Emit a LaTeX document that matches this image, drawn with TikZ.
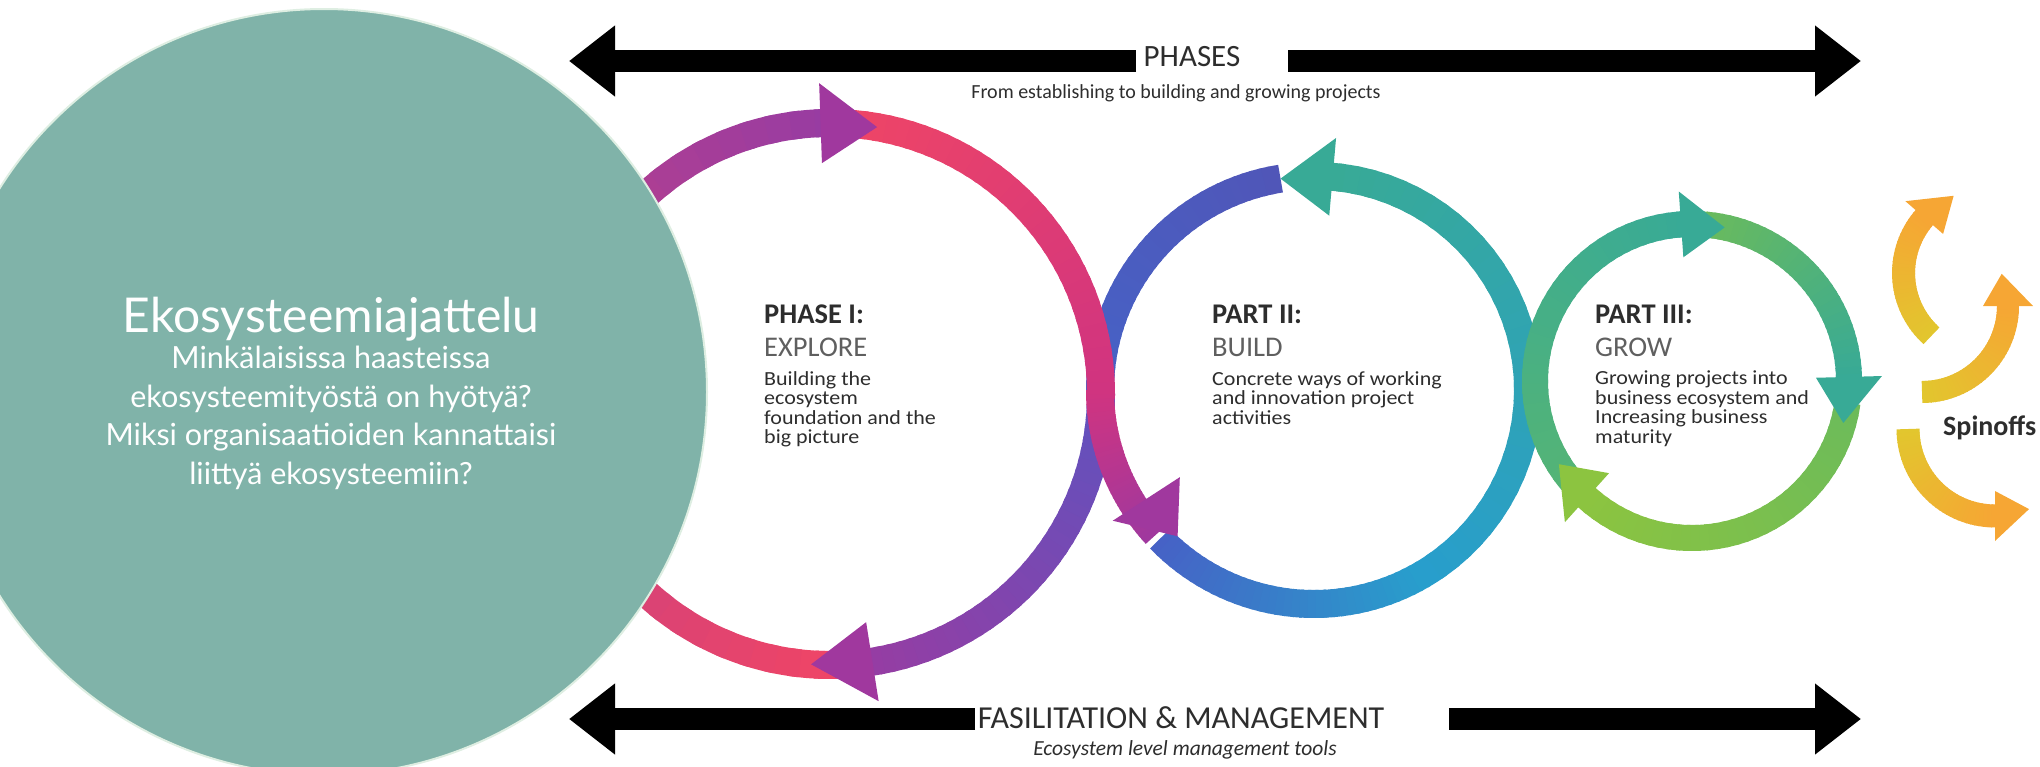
\documentclass[tikz,border=0pt]{standalone}
\usepackage{fontspec}
\setmainfont{Carlito}
\newfontfamily\latofont{Lato}
\newfontfamily\bodyfont[FakeStretch=1.1]{Carlito}
\usetikzlibrary{
    calc,
    arrows.meta
}
\definecolor{circleteal}{RGB}{128,179,169}
\definecolor{circleedge}{RGB}{222,238,226}
\definecolor{ringred}{RGB}{239,69,102}
\definecolor{ringmagenta}{RGB}{208,52,128}
\definecolor{ringplum}{RGB}{160,56,158}
\definecolor{ringpurple}{RGB}{152,60,162}
\definecolor{ringviolet}{RGB}{96,82,190}
\definecolor{ringindigo}{RGB}{80,86,184}
\definecolor{ringblue}{RGB}{70,98,198}
\definecolor{ringcyan}{RGB}{40,158,204}
\definecolor{ringteal}{RGB}{56,170,150}
\definecolor{ringtealgreen}{RGB}{84,180,118}
\definecolor{ringgreen}{RGB}{108,187,90}
\definecolor{ringlime}{RGB}{140,196,64}
\definecolor{spinyellow}{RGB}{226,198,46}
\definecolor{spinorange}{RGB}{246,166,52}
\definecolor{textdark}{RGB}{45,45,45}
\definecolor{textgray}{RGB}{95,95,95}
\tikzset{
    bigarrow/.style={line width=22pt, -{Triangle[width=68pt,length=46pt]}},
    headtext/.style={anchor=base west, inner sep=0, font=\fontsize{28.5}{28.5}\selectfont},
    bodytext/.style={anchor=north west, inner sep=0, align=left, text=textdark, font=\bodyfont\fontsize{20}{19.5}\selectfont}
}
% gradient arc: centre, radius, from angle, to angle, from colour, to colour, width
\newcommand\gradarc[7]{%
    \foreach \k in {0,...,35}{%
        \pgfmathsetmacro\arcA{#3+(#4-#3)*\k/36}%
        \pgfmathsetmacro\arcB{#3+(#4-#3)*(\k+1.4)/36}%
        \pgfmathsetmacro\arcM{100*\k/35}%
        \draw[line width=#7, color=#6!\arcM!#5] (#1) ++(\arcA:#2) arc[start angle=\arcA, end angle=\arcB, radius=#2];
    }}
% arrow head on a ring: centre, radius, base angle, tip angle, half width, colour
\newcommand\ringhead[6]{%
    \fill[#6] ($(#1)+(#3:{#2+#5})$) -- ($(#1)+(#4:#2)$) -- ($(#1)+(#3:{#2-#5})$) -- cycle;}

\begin{document}
\begin{tikzpicture}[x=1pt,y=1pt]
    \useasboundingbox (0,0) rectangle (2040,-766);
    \coordinate (c0) at (324,-392);
    \coordinate (c1) at (830,-394);
    \coordinate (c2) at (1314,-390);
    \coordinate (c3) at (1692,-381);

    % build and grow rings
    \gradarc{c2}{214}{99}{180}{ringindigo}{ringblue}{28pt}
    \gradarc{c2}{214}{224}{300}{ringblue}{ringcyan}{28pt}
    \gradarc{c2}{214}{300}{446}{ringcyan}{ringteal}{28pt}
    \gradarc{c3}{157}{90}{0}{ringgreen}{ringteal}{26pt}
    \gradarc{c3}{157}{-8}{-132}{ringgreen}{ringlime}{26pt}
    \gradarc{c3}{157}{-140}{-268}{ringtealgreen}{ringteal}{26pt}
    % explore ring
    \gradarc{c1}{271}{0}{-86}{ringviolet}{ringpurple}{28pt}
    \gradarc{c1}{271}{-86}{-272}{ringred}{ringpurple}{28pt}
    \gradarc{c1}{271}{88}{0}{ringred}{ringmagenta}{28pt}
    \gradarc{c2}{214}{180}{222}{ringmagenta}{ringplum}{28pt}

    \ringhead{c1}{271}{92}{80}{40}{ringplum}
    \ringhead{c1}{271}{-81}{-94}{40}{ringplum}
    \ringhead{c2}{214}{85}{99}{39}{ringteal}
    \ringhead{c2}{200}{213}{227}{40}{ringplum}
    \ringhead{c3}{157}{94}{78}{33}{ringteal}
    \ringhead{c3}{157}{1.5}{-15.5}{33}{ringteal}
    \ringhead{c3}{157}{228}{212}{33}{ringlime}

    % big circle
    \filldraw[fill=circleteal, draw=circleedge, line width=2pt] (c0) circle[radius=383];
    \node[text=white, font=\latofont\fontsize{48}{48}\selectfont, anchor=base, inner sep=0] (title) at (331,-332) {Ekosysteemiajattelu};
    \node[text=white, font=\latofont\fontsize{30.5}{38.5}\selectfont, align=center, anchor=north, inner sep=0] (questions) at (331,-346)
        {Minkälaisissa haasteissa\\ekosysteemityöstä on hyötyä?\\Miksi organisaatioiden kannattaisi\\liittyä ekosysteemiin?};

    % phases arrow
    \node[font=\fontsize{31}{31}\selectfont, text=textdark, inner sep=0] (phases) at (1192,-57) {PHASES};
    \node[font=\fontsize{20}{20}\selectfont, text=textdark, inner sep=0] (phasesub) at (1176,-93) {From establishing to building and growing projects};
    \coordinate (phasesL) at (569,-61);
    \coordinate (phasesA) at (1136,-61);
    \coordinate (phasesB) at (1288,-61);
    \coordinate (phasesR) at (1861,-61);
    \draw[bigarrow] (phasesA) -- (phasesL);
    \draw[bigarrow] (phasesB) -- (phasesR);

    % management arrow
    \node[font=\fontsize{32}{32}\selectfont, text=textdark, inner sep=0] (fasil) at (1181,-718) {FASILITATION \& MANAGEMENT};
    \node[font=\itshape\fontsize{21.5}{21.5}\selectfont, text=textdark, inner sep=0] (fasilsub) at (1185,-750) {Ecosystem level management tools};
    \coordinate (fasilL) at (569,-719);
    \coordinate (fasilA) at (975,-719);
    \coordinate (fasilB) at (1449,-719);
    \coordinate (fasilR) at (1861,-719);
    \draw[bigarrow] (fasilA) -- (fasilL);
    \draw[bigarrow] (fasilB) -- (fasilR);

    % ring texts
    \node[headtext, text=textdark] (explorehead) at (764,-323) {\textbf{PHASE I:}};
    \node[headtext, text=textgray] (explore) at (764,-356) {EXPLORE};
    \node[bodytext] (exploretext) at (764,-371) {Building the\\ecosystem\\foundation and the\\big picture};
    \node[headtext, text=textdark] (buildhead) at (1212,-323) {\textbf{PART II:}};
    \node[headtext, text=textgray] (build) at (1212,-356) {BUILD};
    \node[bodytext] (buildtext) at (1212,-371) {Concrete ways of working\\and innovation project\\activities};
    \node[headtext, text=textdark] (growhead) at (1595,-323) {\textbf{PART III:}};
    \node[headtext, text=textgray] (grow) at (1595,-356) {GROW};
    \node[bodytext] (growtext) at (1595,-371) {Growing projects into\\business ecosystem and\\Increasing business\\maturity};

    % spinoffs
    \coordinate (s1) at (1988,-273);
    \coordinate (s2) at (1922,-306);
    \coordinate (s3) at (1995,-429);
    \gradarc{s1}{84.5}{228}{139}{spinyellow}{spinorange}{23pt}
    \ringhead{s1}{84.5}{139}{114}{25}{spinorange}
    \gradarc{s2}{86}{-90}{0}{spinyellow}{spinorange}{22pt}
    \ringhead{s2}{86}{0}{22}{25}{spinorange}
    \gradarc{s3}{87}{180}{270}{spinyellow}{spinorange}{23pt}
    \ringhead{s3}{87}{270}{293}{25}{spinorange}
    \node[anchor=base west, inner sep=0, text=textdark, font=\bfseries\fontsize{28}{28}\selectfont] (spin) at (1943,-435) {Spinoffs};
\end{tikzpicture}
\end{document}
